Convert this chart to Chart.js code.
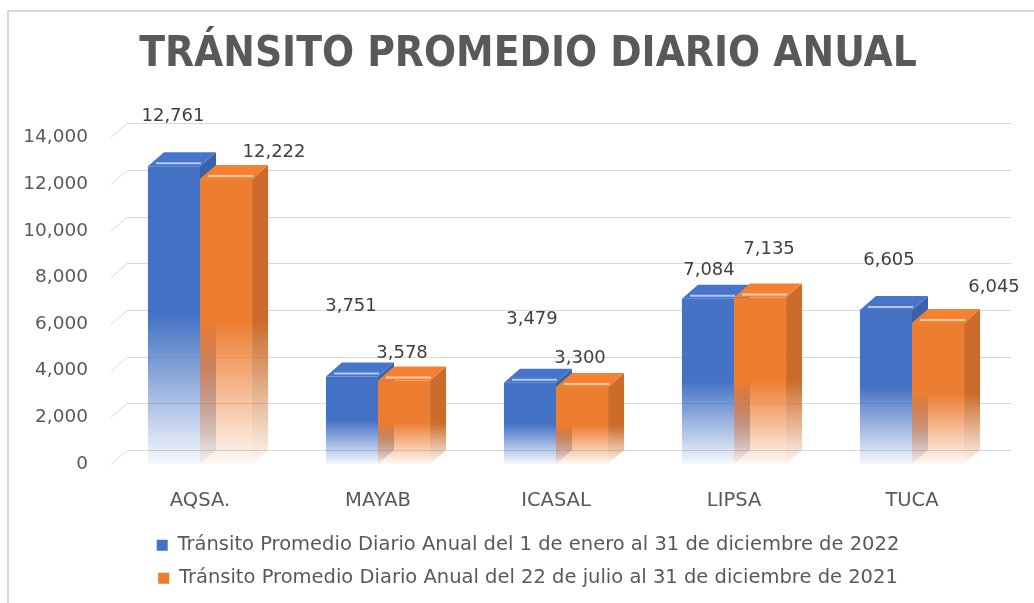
<!DOCTYPE html>
<html><head><meta charset="utf-8">
<script src="https://cdn.jsdelivr.net/npm/chart.js@4"></script>
<style>
html,body{margin:0;padding:0;background:#fff;}
#wrap{position:relative;width:1034px;height:603px;overflow:hidden;}
canvas{position:absolute;left:0;top:0;}
#frame{position:absolute;left:7px;top:10px;width:1040px;height:600px;border-top:2px solid #d9d9d9;border-left:2px solid #d9d9d9;pointer-events:none;}
</style></head><body>
<div id="wrap"><canvas id="c" width="1034" height="603"></canvas><div id="frame"></div></div>
<script>
// ---- data ----
const chartTitle = 'TRÁNSITO PROMEDIO DIARIO ANUAL';
const categories = ['AQSA.', 'MAYAB', 'ICASAL', 'LIPSA', 'TUCA'];
const seriesNames = [
  'Tránsito Promedio Diario Anual del 1 de enero al 31 de diciembre de 2022',
  'Tránsito Promedio Diario Anual del 22 de julio al 31 de diciembre de 2021'
];
const values2022 = [12761, 3751, 3479, 7084, 6605];
const values2021 = [12222, 3578, 3300, 7135, 6045];
const yTickValues = [0, 2000, 4000, 6000, 8000, 10000, 12000, 14000];

// ---- style ----
const BLUE = [68, 114, 196], ORANGE = [237, 125, 49];
const DX = 16, DY = 14;
const TXT = "'DejaVu Sans', sans-serif";
const rgba = (c, a) => `rgba(${c[0]},${c[1]},${c[2]},${a})`;
const shade = (c, f) => c.map(v => Math.min(255, Math.round(v * f)));

function fadeFill(col) {
  return (ctx) => {
    const solid = rgba(col, 1);
    if (ctx.type !== 'data') return solid;
    const ch = ctx.chart, ys = ch.scales && ch.scales.y;
    if (!ch.chartArea || !ys) return solid;
    const top = ys.getPixelForValue(ctx.raw), bot = ys.getPixelForValue(0);
    if (!isFinite(top) || !isFinite(bot) || bot - top < 1) return solid;
    const g = ch.ctx.createLinearGradient(0, top, 0, bot);
    g.addColorStop(0, rgba(col, 1));
    g.addColorStop(0.5, rgba(col, 1));
    g.addColorStop(1, rgba(col, 0.05));
    return g;
  };
}

function sideFace(c, el, col) {
  const r = el.x + el.width / 2, t = el.y, b = el.base;
  const sc = shade(col, 0.86);
  const g = c.createLinearGradient(0, t, 0, b);
  g.addColorStop(0, rgba(sc, 1)); g.addColorStop(0.5, rgba(sc, 1)); g.addColorStop(1, rgba(sc, 0.05));
  c.fillStyle = g;
  c.beginPath(); c.moveTo(r, t); c.lineTo(r + DX, t - DY); c.lineTo(r + DX, b - DY); c.lineTo(r, b); c.closePath(); c.fill();
}
function topFace(c, el, col) {
  const l = el.x - el.width / 2, r = el.x + el.width / 2, t = el.y;
  c.fillStyle = rgba(shade(col, 1.03), 1);
  c.beginPath(); c.moveTo(l, t); c.lineTo(l + DX, t - DY); c.lineTo(r + DX, t - DY); c.lineTo(r, t); c.closePath(); c.fill();
  c.strokeStyle = 'rgba(255,255,255,0.6)'; c.lineWidth = 2;
  c.beginPath(); c.moveTo(l + 8, t - 3); c.lineTo(r + 1, t - 3); c.stroke();
}

const threeD = {
  id: 'threeD',
  afterLayout(chart) {
    // let the y tick labels extend left of the axis box without being clipped
    chart.scales.y.left = 0;
  },
  beforeDatasetsDraw(chart) {
    const c = chart.ctx, a = chart.chartArea, ys = chart.scales.y;
    c.save();
    c.strokeStyle = '#d9d9d9'; c.lineWidth = 1;
    ys.ticks.forEach(t => {
      const y = Math.round(ys.getPixelForValue(t.value)) + 0.5;
      c.beginPath(); c.moveTo(a.left, y); c.lineTo(a.left + DX, y - DY); c.lineTo(a.right + 10, y - DY); c.stroke();
    });
    chart.getDatasetMeta(0).data.forEach(el => { sideFace(c, el, BLUE); topFace(c, el, BLUE); });
    c.restore();
  },
  afterDatasetsDraw(chart, args, opts) {
    const c = chart.ctx;
    c.save();
    chart.getDatasetMeta(1).data.forEach(el => { sideFace(c, el, ORANGE); topFace(c, el, ORANGE); });
    c.fillStyle = '#404040';
    c.font = `18px ${TXT}`;
    c.textAlign = 'center'; c.textBaseline = 'middle';
    [values2022, values2021].forEach((vals, di) => {
      const meta = chart.getDatasetMeta(di);
      meta.data.forEach((el, i) => {
        const n = opts.nudge[di][i];
        c.fillText(vals[i].toLocaleString('en-US'), el.x + n[0], el.y + n[1]);
      });
    });
    c.restore();
  }
};

const legendColors = [rgba(BLUE, 1), rgba(ORANGE, 1)];

new Chart(document.getElementById('c'), {
  type: 'bar',
  data: {
    labels: categories,
    datasets: [
      { label: seriesNames[0], data: values2022, backgroundColor: fadeFill(BLUE), borderWidth: 0 },
      { label: seriesNames[1], data: values2021, backgroundColor: fadeFill(ORANGE), borderWidth: 0 }
    ]
  },
  plugins: [threeD],
  options: {
    responsive: false,
    animation: false,
    events: [],
    layout: { padding: { left: 55, right: 33, top: 0, bottom: 5 } },
    datasets: { bar: { categoryPercentage: 0.585, barPercentage: 1.0 } },
    scales: {
      x: {
        grid: { display: false, drawTicks: false },
        border: { display: false },
        ticks: { color: '#595959', font: { family: TXT, size: 19.5 }, padding: 25 },
        afterFit: s => { s.height = 58; }
      },
      y: {
        min: 0, max: 14000,
        afterBuildTicks: s => { s.ticks = yTickValues.map(v => ({ value: v })); },
        grid: { display: false, drawTicks: false },
        border: { display: false },
        ticks: { color: '#595959', font: { family: TXT, size: 18.5 }, padding: 23,
                 callback: v => Number(v).toLocaleString('en-US') },
        afterFit: s => { s.width = 56; }
      }
    },
    plugins: {
      title: {
        display: true, text: chartTitle, color: '#595959',
        font: { family: "'Liberation Sans Narrow', 'DejaVu Sans Condensed', sans-serif", size: 42, weight: 'bold' },
        padding: { top: 30, bottom: 57 }
      },
      legend: {
        position: 'bottom',
        labels: {
          color: '#595959', font: { family: TXT, size: 19.5 },
          boxWidth: 11, boxHeight: 11, padding: 13.5,
          sort: (a, b) => a.datasetIndex - b.datasetIndex,
          generateLabels: (chart) => Chart.defaults.plugins.legend.labels.generateLabels(chart)
            .map(l => Object.assign(l, { fillStyle: legendColors[l.datasetIndex], strokeStyle: legendColors[l.datasetIndex], lineWidth: 0 }))
        }
      },
      tooltip: { enabled: false },
      threeD: {
        nudge: [
          [[-1, -50], [-1, -70], [2, -64], [1, -28], [3, -50]],
          [[48, -27], [-2, -27], [-2, -29], [9, -48], [56, -36]]
        ]
      }
    }
  }
});
</script>
</body></html>
